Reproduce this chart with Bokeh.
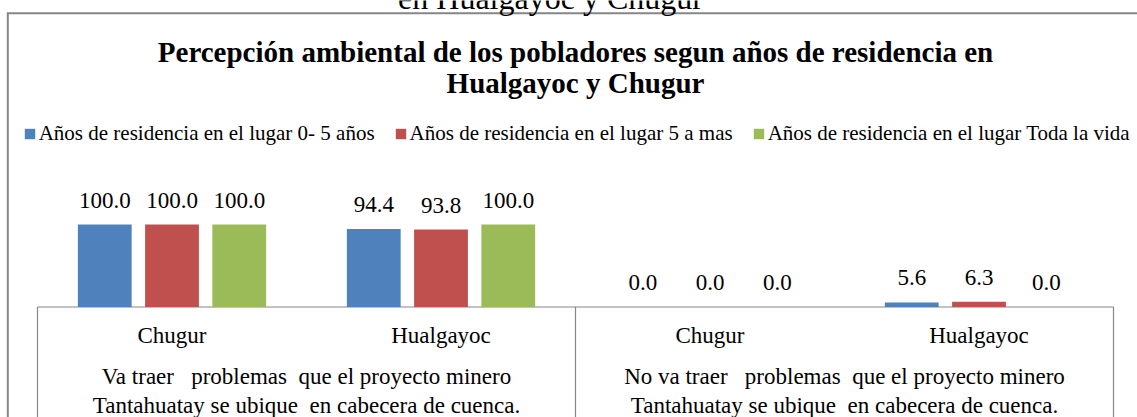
import re
from bokeh.plotting import figure
from bokeh.models import Range1d, ColumnDataSource, LabelSet, Label, Legend, LegendItem
from bokeh.transform import dodge
from bokeh.core.properties import value
from bokeh.embed import file_html
from bokeh.resources import INLINE

# ---------------- data ----------------
caption_above = "en Hualgayoc y Chugur"
title_line1 = "Percepción ambiental de los pobladores segun años de residencia en"
title_line2 = "Hualgayoc y Chugur"
groups = [
    "Va traer   problemas  que el proyecto minero\nTantahuatay se ubique  en cabecera de cuenca.",
    "No va traer   problemas  que el proyecto minero\nTantahuatay se ubique  en cabecera de cuenca.",
]
places = ["Chugur", "Hualgayoc"]
series_names = [
    "Años de residencia en el lugar 0- 5 años",
    "Años de residencia en el lugar 5 a mas",
    "Años de residencia en el lugar Toda la vida",
]
res_0_5 = [100.0, 94.4, 0.0, 5.6]
res_5_mas = [100.0, 93.8, 0.0, 6.3]
res_toda = [100.0, 100.0, 0.0, 0.0]
colors = ["#4F81BD", "#C0504D", "#9BBB59"]

# ---------------- geometry helpers ----------------
SERIF = "Liberation Serif"
W, H = 1137, 417
X0PX = 37.0     # canvas px of first category edge
UPX = 269.0     # px per category
Y0PX = 306.5    # canvas px of value 0
YPX = 0.825     # px per unit value


def fx(px):
    return (px - X0PX) / UPX


def fy(py):
    return (Y0PX - py) / YPX


def keep_spaces(s):
    # keep the repeated blanks of the original labels visible
    return re.sub(r" {2,}", lambda m: " " + "\u00a0" * (len(m.group(0)) - 1), s)


cats = [(g, s) for g in groups for s in places]
xc = [i + 0.5 for i in range(len(cats))]
src = ColumnDataSource(dict(
    x=xc,
    place=[c[1] for c in cats],
    a=res_0_5, b=res_5_mas, c=res_toda,
    la=[f"{v:.1f}" for v in res_0_5],
    lb=[f"{v:.1f}" for v in res_5_mas],
    lc=[f"{v:.1f}" for v in res_toda],
))

p = figure(width=W, height=H,
           x_range=Range1d(fx(0), fx(W)), y_range=Range1d(fy(H), fy(0)),
           output_backend="svg", toolbar_location=None, min_border=0,
           x_axis_location=None, y_axis_location=None,
           outline_line_color=None, background_fill_color="white")
p.xgrid.visible = False
p.ygrid.visible = False

# ---------------- frame decorations ----------------
GRAY = "#868686"
# outer chart border (left + top)
p.segment(x0=[fx(7.3), fx(6.3)], y0=[fy(12.7), fy(12.7)], x1=[fx(7.3), fx(W)], y1=[fy(H), fy(12.7)],
          line_color=GRAY, line_width=2)

# category axis box
n = len(places)
edges = [j * n for j in range(len(groups) + 1)]
p.segment(x0=edges[0], y0=0, x1=edges[-1], y1=0, line_color=GRAY, line_width=1.2)
p.segment(x0=edges, y0=[0] * len(edges), x1=edges, y1=[fy(H)] * len(edges),
          line_color=GRAY, line_width=1.2)

# ---------------- bars ----------------
offsets = [-0.25, 0.0, 0.25]
keys = ["a", "b", "c"]
items = []
for k, off, col, name in zip(keys, offsets, colors, series_names):
    r = p.vbar(x=dodge("x", off, range=p.x_range), top=k, width=0.2, source=src,
               fill_color=col, line_color=None)
    items.append(LegendItem(label=name, renderers=[r]))
    p.add_layout(LabelSet(x=dodge("x", off, range=p.x_range), y=k, text="l" + k, source=src,
                          y_offset=17, text_align="center", text_baseline="alphabetic",
                          text_font=value(SERIF), text_font_size=value("23px"),
                          text_color="black"))

# ---------------- category labels ----------------
p.text(x="x", y=fy(335), text="place", source=src, text_align="center",
       text_baseline="alphabetic", text_font=value(SERIF), text_font_size="23px",
       text_color="black")
gx = [n * (j + 0.5) for j in range(len(groups))]
p.text(x=gx, y=fy(363), text=[keep_spaces(g) for g in groups], text_align="center",
       text_baseline="top", text_line_height=1.16, text_font=value(SERIF),
       text_font_size="23px", text_color="black")

# ---------------- legend ----------------
legend = Legend(items=items, orientation="horizontal", location=(22.7, 271),
                glyph_width=13, glyph_height=13, label_standoff=3, spacing=19,
                padding=0, margin=0, border_line_color=None, background_fill_alpha=0,
                label_text_font=SERIF, label_text_font_size="21px",
                label_text_color="black")
p.add_layout(legend)

# ---------------- titles ----------------
p.add_layout(Label(x=fx(575), y=fy(51), text=title_line1, text_align="center",
                   text_baseline="alphabetic", text_font=SERIF, text_font_style="bold",
                   text_font_size="29px", text_color="black"))
p.add_layout(Label(x=fx(575), y=fy(82), text=title_line2, text_align="center",
                   text_baseline="alphabetic", text_font=SERIF, text_font_style="bold",
                   text_font_size="29px", text_color="black"))
p.add_layout(Label(x=fx(550), y=fy(-3), text=caption_above, text_align="center",
                   text_baseline="alphabetic", text_font=SERIF,
                   text_font_size="32px", text_color="black"))

open("out.html", "w").write(file_html(p, INLINE))
